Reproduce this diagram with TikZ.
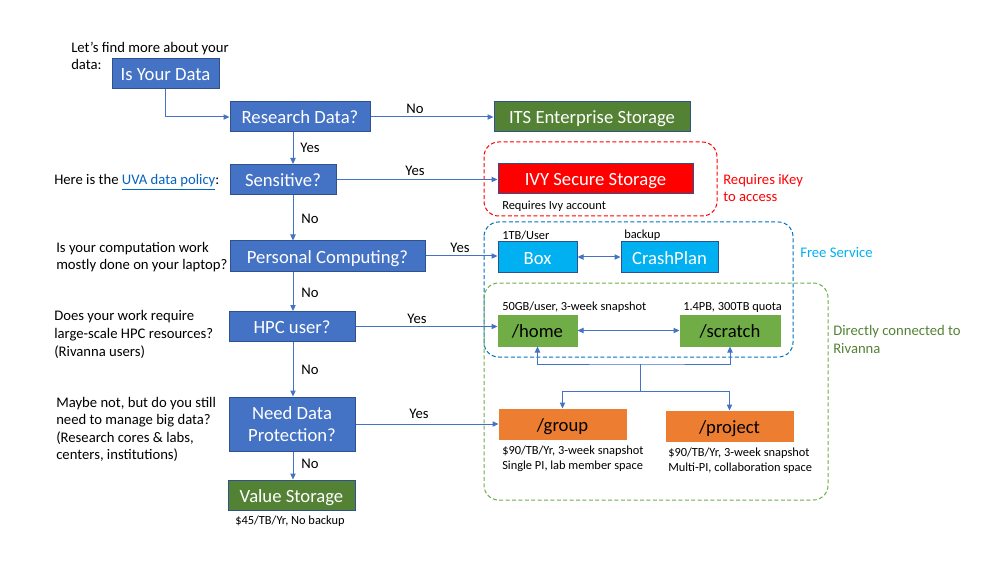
\documentclass[tikz,border=0pt]{standalone}
\usepackage{fontspec}
\setmainfont{Carlito}
\usetikzlibrary{arrows.meta}
\definecolor{obl}{HTML}{4472C4}
\definecolor{bdr}{HTML}{2F528F}
\definecolor{dgreen}{HTML}{548235}
\definecolor{lgreen}{HTML}{70AD47}
\definecolor{orng}{HTML}{ED7D31}
\definecolor{cyan1}{HTML}{00B0F0}
\definecolor{red1}{HTML}{FF0000}
\definecolor{linkc}{HTML}{0563C1}
\definecolor{dashblue}{HTML}{0070C0}
\begin{document}
\begin{tikzpicture}[x=0.75pt,y=-0.75pt,
  basebox/.style={draw=bdr, line width=0.75pt, inner sep=0pt, minimum height=22.5pt,
    font=\fontsize{14}{16.5}\selectfont, text=white, align=center},
  sline/.style={text height=10.5pt, text depth=0pt},
  bluebox/.style={basebox, fill=obl},
  greenbox/.style={basebox, fill=dgreen, sline},
  lgbox/.style={basebox, fill=lgreen, draw=lgreen, text=black, sline},
  orbox/.style={basebox, fill=orng, draw=orng, text=black, sline},
  cybox/.style={basebox, fill=cyan1, sline},
  redbox/.style={basebox, fill=red1, sline},
  conn/.style={draw=obl, line width=0.75pt, -{Triangle[length=4.5pt,width=4pt]}},
  dconn/.style={draw=obl, line width=0.75pt, {Triangle[length=4.5pt,width=4pt]}-{Triangle[length=4.5pt,width=4pt]}},
  lbl/.style={font=\fontsize{11}{13.2}\selectfont, inner sep=0pt},
  txt/.style={lbl, anchor=west, align=left},
  note/.style={font=\fontsize{9.3}{11.25}\selectfont, inner sep=0pt, anchor=west, align=left},
  region/.style={line width=0.75pt, dash pattern=on 3pt off 1.8pt, rounded corners=11pt}
]
\useasboundingbox (0,0) rectangle (1000,563);

% dashed regions
\draw[region, draw=red1] (484,142) rectangle (717,216);
\draw[region, draw=dashblue] (484,222) rectangle (793,357);
\draw[region, draw=lgreen] (484,283) rectangle (828,500);

% left column boxes
\node[bluebox, sline, minimum width=80.25pt] (isdata) at (165.5,73.5) {Is Your Data};
\node[bluebox, sline, minimum width=105pt] (research) at (300,117) {Research Data?};
\node[bluebox, sline, minimum width=79.5pt] (sensitive) at (283,179.5) {Sensitive?};
\node[bluebox, sline, minimum width=146.25pt] (personal) at (327.5,256) {Personal Computing?};
\node[bluebox, sline, minimum width=94.5pt] (hpc) at (292,326.5) {HPC user?};
\node[bluebox, minimum width=94.5pt, minimum height=40.5pt] (need) at (292,424) {\rule{0pt}{10.5pt}Need Data\\Protection?};
\node[greenbox, minimum width=95.25pt] (value) at (291.5,495) {Value Storage};

% right boxes
\node[greenbox, minimum width=147pt] (its) at (592,117) {ITS Enterprise Storage};
\node[redbox, minimum width=146.25pt] (ivy) at (595.5,179) {IVY Secure Storage};
\node[cybox, minimum width=59.25pt] (box) at (537.5,257) {Box};
\node[cybox, minimum width=72.75pt] (crash) at (669.5,257) {CrashPlan};
\node[lgbox, minimum width=59.25pt, minimum height=23.25pt] (home) at (537.5,330.5) {/home};
\node[lgbox, minimum width=75pt, minimum height=23.25pt] (scratch) at (730,330.5) {/scratch};
\node[orbox, minimum width=95.25pt] (group) at (562.5,424) {/group};
\node[orbox, minimum width=95.25pt] (project) at (729.5,426) {/project};

% spine coordinates
\coordinate (spine) at (293,0);
\coordinate (jtop) at (640,364);
\coordinate (jbot) at (640,391);

% connectors
\draw[conn] (isdata.south) |- (research.west);
\draw[conn] (research.east) -- (its.west);
\draw[conn] (research.south -| spine) -- (sensitive.north -| spine);
\draw[conn] (sensitive.east) -- (sensitive.east -| ivy.west);
\draw[conn] (sensitive.south -| spine) -- (personal.north -| spine);
\draw[conn] (personal.east) -- (personal.east -| box.west);
\draw[conn] (personal.south -| spine) -- (hpc.north -| spine);
\draw[conn] (hpc.east) -- (hpc.east -| home.west);
\draw[conn] (hpc.south -| spine) -- (need.north -| spine);
\draw[conn] (need.east) -- (group.west);
\draw[conn] (need.south -| spine) -- (value.north -| spine);
\draw[dconn] (box.east) -- (crash.west);
\draw[dconn] (home.east) -- (home.east -| scratch.west);
\draw[dconn] (home.south) |- (jtop) -| (scratch.south);
\draw[draw=obl, line width=0.75pt] (jtop) -- (jbot);
\draw[conn] (jbot) -| (group.north);
\draw[conn] (jbot) -| (project.north);

% yes/no labels
\node[lbl] (l1) at (415,109) {No};
\node[lbl] (l2) at (310,148) {Yes};
\node[lbl] (l3) at (415,170.5) {Yes};
\node[lbl] (l4) at (310,219) {No};
\node[lbl] (l5) at (460,248) {Yes};
\node[lbl] (l6) at (310,293) {No};
\node[lbl] (l7) at (417,318.5) {Yes};
\node[lbl] (l8) at (310,370) {No};
\node[lbl] (l9) at (419,414) {Yes};
\node[lbl] (l10) at (310,464) {No};

% left texts
\node[txt] (t1) at (71,56) {Let’s find more about your\\data:};
\node[txt] (t2) at (54,182) {Here is the \textcolor{linkc}{\underline{UVA data policy}}:};
\node[txt] (t3) at (56,257) {Is your computation work\\mostly done on your laptop?};
\node[txt] (t4) at (54,334.5) {Does your work require\\large-scale HPC resources?\\(Rivanna users)};
\node[txt] (t5) at (56,429.5) {Maybe not, but do you still\\need to manage big data?\\(Research cores \& labs,\\centers, institutions)};

% right side texts
\node[txt, text=red1, font=\fontsize{11}{12.75}\selectfont] (t6) at (723,188.5) {Requires iKey\\to access};
\node[txt, text=cyan1] (t7) at (800,253) {Free Service};
\node[txt, text=dgreen] (t8) at (833,339.5) {Directly connected to\\Rivanna};

% notes
\node[note] (n1) at (502,206) {Requires Ivy account};
\node[note] (n2) at (502,235) {1TB/User};
\node[note] (n3) at (624,235) {backup};
\node[note] (n4) at (502,307) {50GB/user, 3-week snapshot};
\node[note] (n5) at (683,307) {1.4PB, 300TB quota};
\node[note] (n6) at (502,458.5) {\$90/TB/Yr, 3-week snapshot\\Single PI, lab member space};
\node[note] (n7) at (668,460.5) {\$90/TB/Yr, 3-week snapshot\\Multi-PI, collaboration space};
\node[note, anchor=center] (n8) at (290,521) {\$45/TB/Yr, No backup};
\end{tikzpicture}
\end{document}
